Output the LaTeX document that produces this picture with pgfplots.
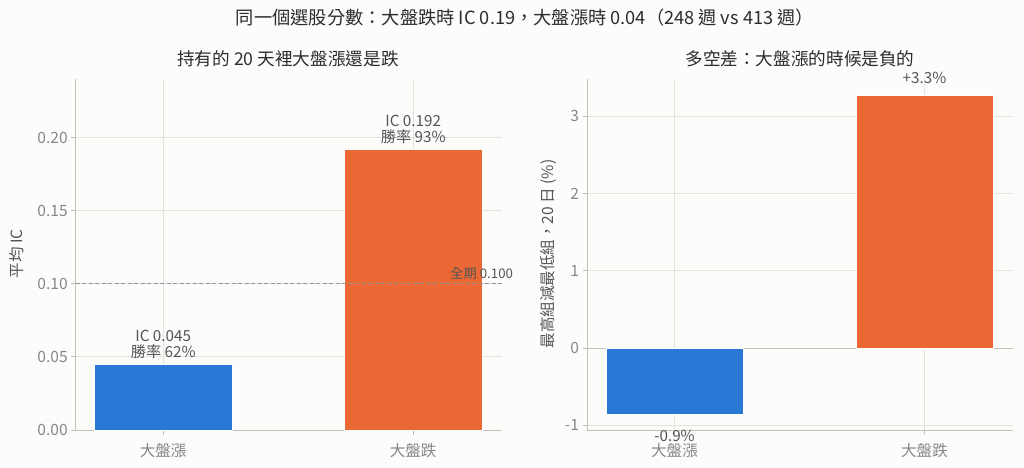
\documentclass[border=0pt]{standalone}
\usepackage{fontspec}
\setmainfont{Noto Sans CJK TC}
\usepackage{pgfplots}
\pgfplotsset{compat=1.18}

\definecolor{bg}{RGB}{252,252,250}
\definecolor{cblue}{RGB}{41,120,214}
\definecolor{corange}{RGB}{235,104,53}
\definecolor{gridc}{RGB}{226,226,223}
\definecolor{spine}{RGB}{192,192,186}
\definecolor{tickc}{RGB}{135,135,135}
\definecolor{txt}{RGB}{45,45,45}
\definecolor{annot}{RGB}{85,85,85}

\newcommand{\fs}[1]{\fontsize{#1}{#1}\selectfont}

\pgfplotsset{
  panel/.style={
    scale only axis, width=426bp, height=351bp,
    axis x line*=bottom, axis y line*=left,
    axis line style={spine, line width=0.9bp, -},
    grid=major, major grid style={gridc, line width=0.9bp},
    tick style={spine, line width=0.9bp}, major tick length=4.5bp,
    tick align=outside,
    xtick={0,1}, xticklabels={大盤漲,大盤跌},
    xmin=-0.350, xmax=1.354,
    ticklabel style={font=\fs{15.6}, text=tickc},
    xticklabel style={yshift=-5bp},
    /pgf/number format/assume math mode=true,
    clip=false,
  },
  bar/.style={ybar, bar width=0.55, bar shift=0pt, draw=white, line width=0.4bp, fill=#1},
}

\begin{document}
\begin{tikzpicture}
\fill[bg] (0bp,0bp) rectangle (1024bp,468bp);
\useasboundingbox (0bp,0bp) rectangle (1024bp,468bp);

% left panel: mean IC
\begin{axis}[panel, at={(75.7bp,38bp)}, anchor=south west,
  ymin=0, ymax=0.24,
  ytick={0,0.05,0.10,0.15,0.20},
  yticklabel style={/pgf/number format/.cd, fixed, fixed zerofill, precision=2},
]
\addplot[bar=cblue] coordinates {(0,0.045)};
\addplot[bar=corange] coordinates {(1,0.192)};
\addplot[gray!85, dashed, line width=1bp, dash pattern=on 4bp off 2.5bp] coordinates {(-0.350,0.100) (1.354,0.100)};
\node[anchor=base, text=annot, font=\fs{15.3}] at (axis cs:0,0.045) [yshift=6.5bp] {勝率 62\%};
\node[anchor=base, text=annot, font=\fs{15.3}] at (axis cs:0,0.045) [yshift=22.2bp] {IC 0.045};
\node[anchor=base, text=annot, font=\fs{15.3}] at (axis cs:1,0.192) [yshift=6.5bp] {勝率 93\%};
\node[anchor=base, text=annot, font=\fs{15.3}] at (axis cs:1,0.192) [yshift=22.2bp] {IC 0.192};
\node[anchor=base east, text=annot, font=\fs{13.3}, inner sep=0pt] at (axis cs:1.40,0.100) [yshift=5bp] {全期 0.100};
\end{axis}

% right panel: long-short spread
\begin{axis}[panel, at={(587bp,38bp)}, anchor=south west,
  ymin=-1.06, ymax=3.48,
  ytick={-1,0,1,2,3},
]
\addplot[spine, line width=1bp] coordinates {(-0.350,0) (1.354,0)};
\addplot[bar=cblue] coordinates {(0,-0.854)};
\addplot[bar=corange] coordinates {(1,3.273)};
\node[anchor=base, text=annot, font=\fs{15.3}] at (axis cs:1,3.273) [yshift=11bp] {+3.3\%};
\node[anchor=base, text=annot, font=\fs{15.3}] at (axis cs:0,-0.854) [yshift=-27bp] {-0.9\%};
\end{axis}

\node[text=txt, font=\fs{18.3}] at (525bp,450bp) {同一個選股分數：大盤跌時 IC 0.19，大盤漲時 0.04（248 週 vs 413 週）};
\node[text=txt, font=\fs{17.7}] at (288bp,409bp) {持有的 20 天裡大盤漲還是跌};
\node[text=txt, font=\fs{17.7}] at (800bp,409bp) {多空差：大盤漲的時候是負的};
\node[text=annot, font=\fs{15.6}, rotate=90] at (17bp,214bp) {平均 IC};
\node[text=annot, font=\fs{15.6}, rotate=90] at (548bp,214bp) {最高組減最低組，20 日 (\%)};
\end{tikzpicture}
\end{document}
